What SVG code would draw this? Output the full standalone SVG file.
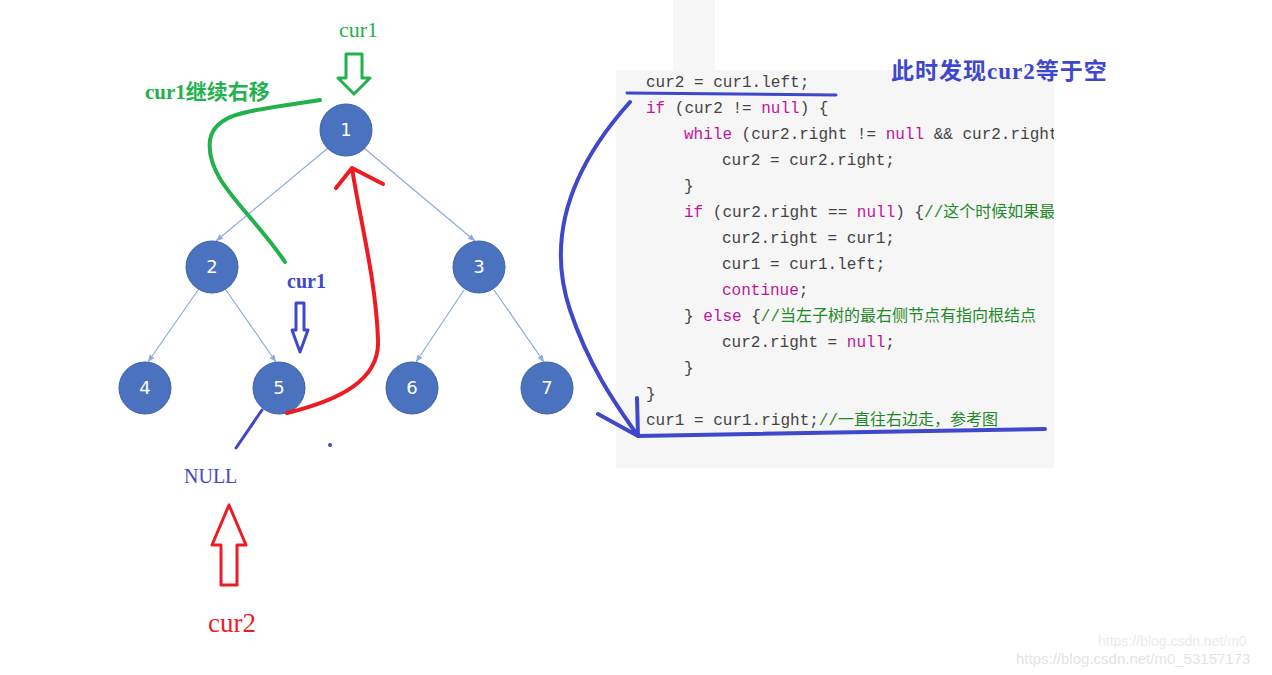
<svg xmlns="http://www.w3.org/2000/svg" width="1272" height="675" viewBox="0 0 1272 675">
<defs>
<marker id="a" markerWidth="8" markerHeight="8" refX="7" refY="4" orient="auto" markerUnits="userSpaceOnUse"><path d="M0,1 L7,4 L0,7 Z" fill="#8faadc"/></marker>
<clipPath id="cc"><rect x="616" y="70" width="438" height="398"/></clipPath>
</defs>
<style>
.n{fill:#4a72be;stroke:#3f63a8;stroke-width:1}
.nt{font-family:"DejaVu Sans",sans-serif;font-size:18px;fill:#fff;text-anchor:middle}
.e{stroke:#8faadc;stroke-width:1.2;fill:none}
.c{font-family:"Liberation Mono","Noto Sans CJK SC",monospace;font-size:16px;fill:#444}
.k{fill:#c0149a}
.g{fill:#1f8a2a}
.s{fill:none;stroke-linecap:round;stroke-linejoin:round}
</style>
<rect width="1272" height="675" fill="#fff"/>
<rect x="673" y="0" width="42" height="70" fill="#f7f7f7"/>
<rect x="616" y="70" width="438" height="398" fill="#f6f6f6"/>
<g clip-path="url(#cc)" class="c">
<text x="646" y="87">cur2 = cur1.left;</text>
<text x="646" y="113"><tspan class="k">if</tspan> (cur2 != <tspan class="k">null</tspan>) {</text>
<text x="684" y="139"><tspan class="k">while</tspan> (cur2.right != <tspan class="k">null</tspan> &amp;&amp; cur2.right != cur1) {</text>
<text x="722" y="165">cur2 = cur2.right;</text>
<text x="684" y="191">}</text>
<text x="684" y="217"><tspan class="k">if</tspan> (cur2.right == <tspan class="k">null</tspan>) {<tspan class="g">//这个时候如果最右侧节点</tspan></text>
<text x="722" y="243">cur2.right = cur1;</text>
<text x="722" y="269">cur1 = cur1.left;</text>
<text x="722" y="295" class="k">continue<tspan fill="#444">;</tspan></text>
<text x="684" y="321">} <tspan class="k">else</tspan> {<tspan class="g">//当左子树的最右侧节点有指向根结点</tspan></text>
<text x="722" y="347">cur2.right = <tspan class="k">null</tspan>;</text>
<text x="684" y="373">}</text>
<text x="646" y="399">}</text>
<text x="646" y="425">cur1 = cur1.right;<tspan class="g">//一直往右边走，参考图</tspan></text>
</g>
<g id="edges">
<line class="e" x1="328" y1="148" x2="216" y2="241" marker-end="url(#a)"/>
<line class="e" x1="364" y1="148" x2="475" y2="241" marker-end="url(#a)"/>
<line class="e" x1="198" y1="290" x2="148" y2="362" marker-end="url(#a)"/>
<line class="e" x1="226" y1="290" x2="276" y2="362" marker-end="url(#a)"/>
<line class="e" x1="464" y1="290" x2="416" y2="362" marker-end="url(#a)"/>
<line class="e" x1="494" y1="290" x2="544" y2="362" marker-end="url(#a)"/>
</g>
<g id="n1"><circle class="n" cx="346" cy="130" r="26"/><text class="nt" x="346" y="136">1</text></g>
<g id="n2"><circle class="n" cx="212" cy="267" r="26"/><text class="nt" x="212" y="273">2</text></g>
<g id="n3"><circle class="n" cx="479" cy="267" r="26"/><text class="nt" x="479" y="273">3</text></g>
<g id="n4"><circle class="n" cx="145" cy="388" r="26"/><text class="nt" x="145" y="394">4</text></g>
<g id="n5"><circle class="n" cx="279" cy="388" r="26"/><text class="nt" x="279" y="394">5</text></g>
<g id="n6"><circle class="n" cx="412" cy="388" r="26"/><text class="nt" x="412" y="394">6</text></g>
<g id="n7"><circle class="n" cx="547" cy="388" r="26"/><text class="nt" x="547" y="394">7</text></g>
<g id="annotations">
<text x="339" y="37" font-family="Liberation Serif,serif" font-size="22" fill="#22b14c">cur1</text>
<path class="s" d="M346,54 L346,78 L338,78 L354,94 L370,78 L362,78 L362,54 Z" stroke="#22b14c" stroke-width="3"/>
<text x="145" y="99" font-family="Liberation Serif,'Noto Sans CJK SC',serif" font-size="21" font-weight="bold" fill="#22b14c">cur1继续右移</text>
<path class="s" d="M320,100 C260,110 215,110 210,140 C205,180 250,210 285,262" stroke="#22b14c" stroke-width="4"/>
<text x="287" y="288" font-family="Liberation Serif,serif" font-size="20" font-weight="bold" fill="#3f48cc">cur1</text>
<path class="s" d="M296,303 L296,330 L292,330 L300,352 L308,330 L304,330 L304,303 Z" stroke="#3f48cc" stroke-width="3"/>
<path class="s" d="M287,413 C340,400 380,380 378,340 C376,280 360,220 352,168 M336,188 L352,168 L383,184" stroke="#ed1c24" stroke-width="4"/>
<line class="s" x1="262" y1="410" x2="236" y2="448" stroke="#3f48cc" stroke-width="3"/>
<text x="184" y="483" font-family="Liberation Serif,serif" font-size="20" fill="#3f48cc">NULL</text>
<path class="s" d="M221,585 L221,545 L212,545 L229,505 L246,545 L237,545 L237,585 Z" stroke="#ed1c24" stroke-width="3"/>
<text x="208" y="632" font-family="Liberation Serif,serif" font-size="27" fill="#ed1c24">cur2</text>
<text x="891" y="79" font-family="Liberation Serif,'Noto Sans CJK SC',serif" font-size="23" font-weight="bold" letter-spacing="1" fill="#3f48cc">此时发现cur2等于空</text>
<path class="s" d="M627,93 L836,95" stroke="#3f48cc" stroke-width="3"/>
<path class="s" d="M630,102 C560,180 550,250 570,310 C590,370 620,410 638,436 M598,414 L638,436 M637,398 L638,436 L1045,429" stroke="#3f48cc" stroke-width="4"/>
<circle cx="330" cy="445" r="2" fill="#3f48cc"/>
</g>
<text x="1016" y="664" font-family="Liberation Sans,sans-serif" font-size="15" fill="#e4e4e4">https://blog.csdn.net/m0_53157173</text>
<text x="1098" y="646" font-family="Liberation Sans,sans-serif" font-size="14" fill="#ececec">https://blog.csdn.net/m0</text>
</svg>
